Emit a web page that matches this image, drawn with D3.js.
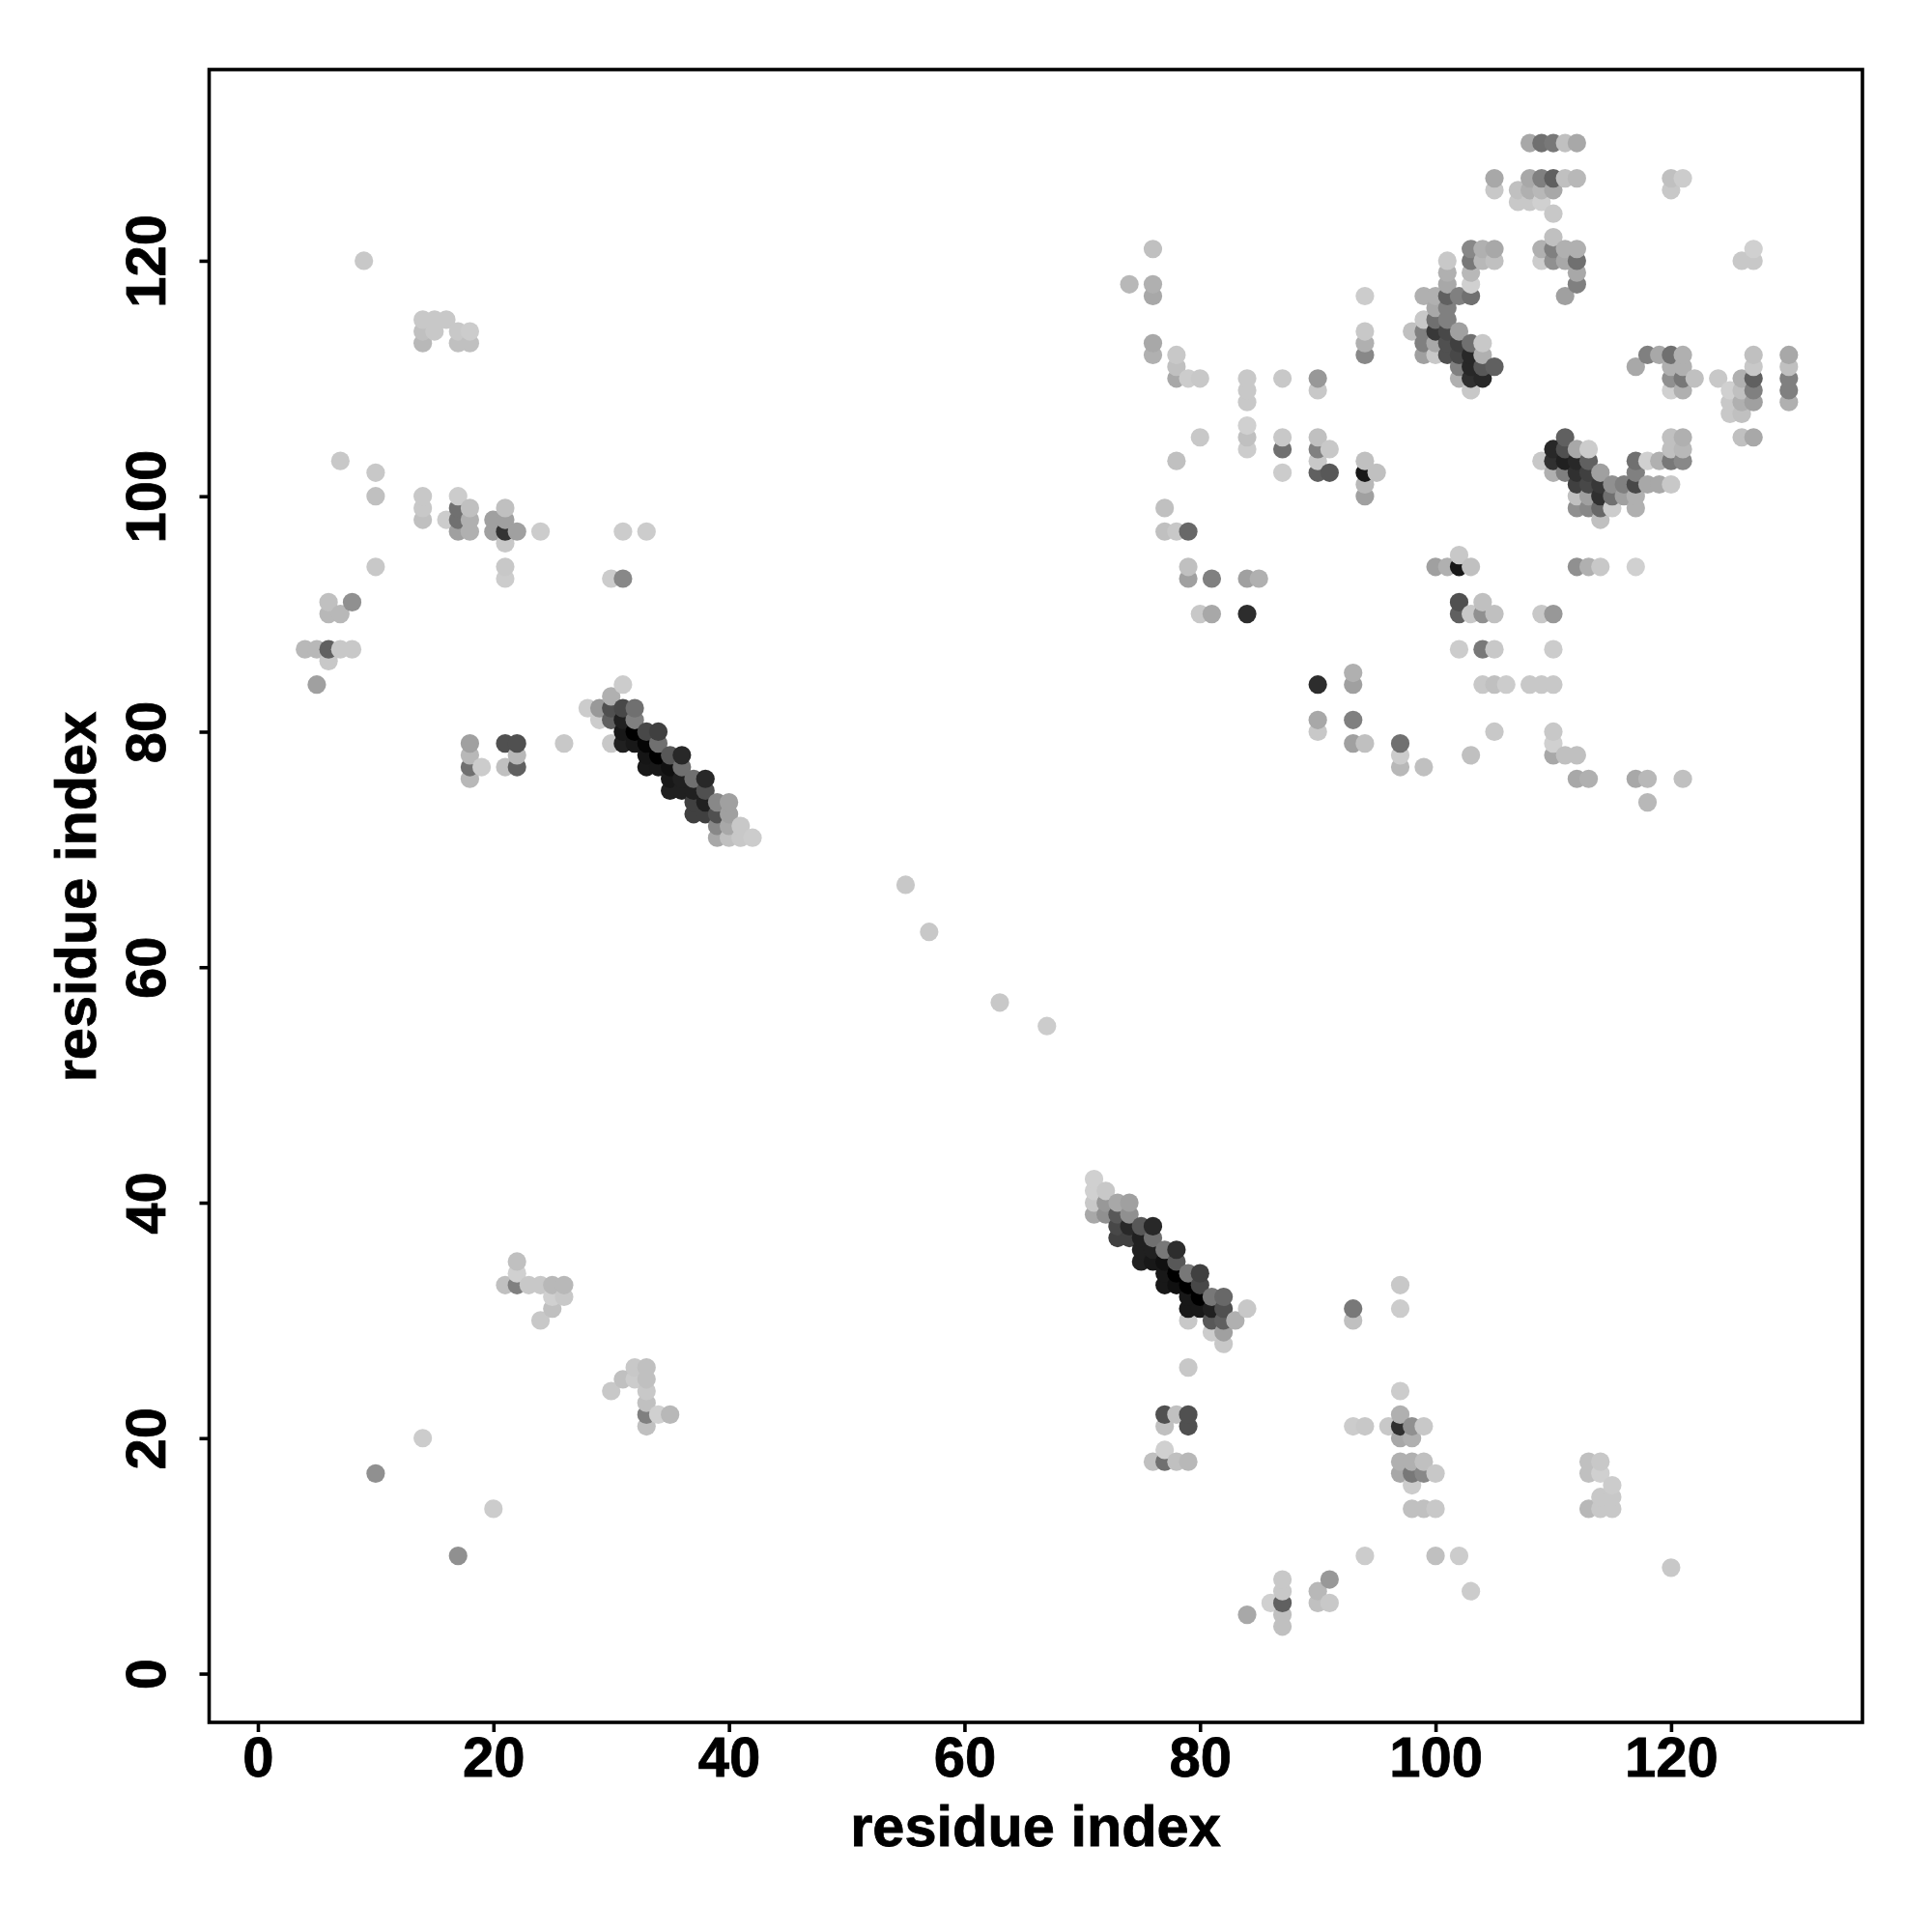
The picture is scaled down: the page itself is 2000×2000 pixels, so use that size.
<!DOCTYPE html>
<html>
<head>
<meta charset="utf-8">
<script src="https://d3js.org/d3.v7.min.js"></script>
<style>
  body { margin: 0; background: #fff; }
  text { font-family: "Liberation Sans", Arial, sans-serif; font-weight: bold; fill: #000; stroke: #000; stroke-width: 0.8px; }
</style>
</head>
<body>
<script>
// contacts as [residue x, residue y, grey level 0-255]
const upperLeft = [
  [9,120,0xc8],[14,115,0xc8],[15,115,0xc8],[16,115,0xc8],[14,114,0xc0],[15,114,0xc8],[14,113,0xb8],
  [17,114,0xc8],[18,114,0xcc],[17,113,0xc0],[18,113,0xc0],[7,103,0xc8],[10,102,0xc8],[10,100,0xc0],[10,94,0xc8],
  [14,100,0xc8],[14,99,0xc8],[14,98,0xc0],[16,98,0xcc],[17,100,0xcc],[17,99,0x70],[17,98,0x70],[17,97,0xa0],
  [18,99,0xc0],[18,98,0xb0],[18,97,0xb0],[20,98,0xa0],[20,97,0xa0],[21,99,0xc0],[21,98,0xa0],[21,97,0x33],
  [21,96,0xc8],[22,97,0xa0],[24,97,0xcc],[21,94,0xc8],[21,93,0xcc],[30,93,0xcc],[31,93,0x88],[31,97,0xcc],[33,97,0xcc],
  [6,91,0xc0],[8,91,0x90],[6,90,0xb8],[7,90,0xb8],[4,87,0xb8],[5,87,0xb8],[6,87,0x60],[7,87,0xc8],[8,87,0xc8],
  [6,86,0xc8],[5,84,0xa0],[18,79,0xa0],[18,78,0xb8],[18,77,0x70],[18,76,0xb8],[19,77,0xcc],[21,79,0x50],
  [22,79,0x50],[22,78,0xb8],[21,77,0xc0],[22,77,0x60],[26,79,0xc8]
];
const helixUpper = [
  [28,82,0xcc],[29,82,0x99],[30,83,0xb0],[31,84,0xcc],[29,81,0xcc],[30,82,0x50],[30,81,0x60],[30,79,0xc8],
  [31,82,0x48],[32,82,0x70],[32,81,0x80],[31,81,0x20],[31,80,0x18],[31,79,0x20],[32,80,0x00],[32,79,0x18],
  [33,80,0x48],[34,80,0x40],[33,79,0x05],[34,79,0x70],[33,78,0x15],[33,77,0x18],[34,78,0x00],[34,77,0x18],
  [35,78,0x58],[36,78,0x28],[35,77,0x10],[36,77,0x70],[35,76,0x18],[35,75,0x20],[36,76,0x20],[36,75,0x20],
  [37,76,0x70],[38,76,0x28],[37,75,0x20],[38,75,0x50],[37,74,0x40],[38,74,0x20],[37,73,0x40],[38,73,0x40],
  [39,74,0x88],[40,74,0xa0],[39,73,0x50],[40,73,0xa0],[39,72,0x88],[40,72,0xa8],[41,72,0xc8],[39,71,0xa8],
  [40,71,0xc0],[41,71,0xc8],[42,71,0xcc]
];
const middle = [[55,67,0xc8],[57,63,0xc8],[63,57,0xc8],[67,55,0xcc]];
const topBlocks = [
  [108,130,0xa8],[109,130,0x70],[110,130,0x78],[111,130,0xc0],[112,130,0xa8],
  [105,127,0xa8],[108,127,0xa8],[109,127,0x80],[110,127,0x60],[111,127,0xc0],[112,127,0xb8],[120,127,0xc0],[121,127,0xcc],
  [105,126,0xc8],[107,126,0xc0],[108,126,0xb0],[109,126,0xb8],[110,126,0xa8],[120,126,0xc8],
  [107,125,0xc8],[108,125,0xc8],[109,125,0xd0],[110,124,0xc8],[110,122,0xc0],
  [109,121,0xb0],[110,121,0x80],[111,121,0xb0],[112,121,0xb0],[109,120,0xcc],[110,120,0x90],[111,120,0xa8],[112,120,0x70],
  [112,119,0xa8],[112,118,0x80],[111,117,0xa0],
  [103,121,0x88],[104,121,0xb0],[105,121,0xa8],[103,120,0x78],[104,120,0xb8],[105,120,0xc0],[103,119,0xb8],[103,118,0xd0],
  [101,120,0xc8],[101,119,0xb0],[101,118,0xa8],[99,117,0xb0],[100,117,0xb0],[101,117,0x60],[102,117,0x80],[103,117,0x70],
  [100,116,0xa8],[101,116,0x80],[99,115,0xc8],[100,115,0x70],[101,115,0x80],[98,114,0xc0],[99,114,0x80],[100,114,0x38],
  [101,114,0x48],[102,114,0xa0],[99,113,0x80],[100,113,0xa8],[101,113,0x50],[102,113,0x40],[103,113,0x70],[104,113,0xc8],
  [99,112,0xa0],[100,112,0xc8],[101,112,0x50],[102,112,0x48],[103,112,0x28],[104,112,0xb0],[102,111,0x80],[103,111,0x28],
  [104,111,0x58],[105,111,0x60],[102,110,0xb0],[103,110,0x30],[104,110,0x28],[103,109,0xc8],
  [127,121,0xd0],[126,120,0xc8],[127,120,0xc8]
];
const upperRight = [
  [76,121,0xc0],[74,118,0xb8],[76,118,0xb0],[76,117,0xa8],[76,113,0xa8],[76,112,0xb0],[78,112,0xc8],[78,111,0xc0],
  [78,110,0xa8],[79,110,0xcc],[80,110,0xc8],[84,110,0xc8],[84,109,0xc8],[84,108,0xc8],[84,106,0xd0],[84,105,0xc0],
  [84,104,0xcc],[87,110,0xc8],[90,110,0x98],[90,109,0xc8],[87,105,0xc8],[87,104,0x70],[87,102,0xcc],[90,105,0xc0],
  [90,104,0x80],[91,104,0xc8],[90,103,0xc8],[90,102,0x60],[91,102,0x58],[94,117,0xcc],[94,114,0xc8],[94,113,0xb0],
  [94,112,0x88],[94,103,0xc0],[94,102,0x18],[95,102,0xc0],[94,101,0xb8],[94,100,0xa0],[80,105,0xc8],[78,103,0xc0],
  [77,99,0xc0],[77,97,0xc0],[78,97,0xc8],[79,97,0x68],[79,94,0xc0],[79,93,0xa0],[81,93,0x80],[84,93,0xa0],[85,93,0xb0],
  [80,90,0xc8],[81,90,0xa8],[84,90,0x2d],[90,84,0x2d],[93,85,0xb0],[93,84,0xa0],[90,81,0xa8],[90,80,0xc8],[93,81,0x80],
  [93,79,0xa0],[94,79,0xc0],[97,79,0x70],[97,78,0xcc],[97,77,0xb8],[99,77,0xc0],[103,78,0xc0],[105,80,0xc8],
  [110,80,0xc8],[110,79,0xd0],[110,78,0xa8],[111,78,0xc0],[112,78,0xc0],[112,76,0xa8],[113,76,0xb0],[117,76,0xa8],
  [118,76,0xb8],[121,76,0xc0],[118,74,0xb8],[104,84,0xc8],[105,84,0xc0],[106,84,0xcc],[108,84,0xc8],[109,84,0xc8],
  [110,84,0xc8],[102,87,0xcc],[104,87,0x78],[105,87,0xc8],[110,87,0xcc],[102,90,0x60],[103,90,0xc8],[104,90,0x90],
  [105,90,0xc0],[109,90,0xc8],[110,90,0x98],[102,91,0x50],[104,91,0xc0],[100,94,0xa0],[101,94,0xb0],[102,94,0x18],
  [103,94,0xc0],[102,95,0xc8],[112,94,0x90],[113,94,0xb0],[114,94,0xc8],[117,94,0xd0]
];
const rightBlocks = [
  [111,105,0x60],[120,105,0xc0],[121,105,0xb0],[126,105,0xc0],[127,105,0xa8],
  [110,104,0x28],[111,104,0x50],[112,104,0xa8],[113,104,0xcc],[120,104,0xc0],[121,104,0xb8],
  [109,103,0xc8],[110,103,0x30],[111,103,0x20],[112,103,0x28],[113,103,0x60],[117,103,0x70],[118,103,0xd0],[119,103,0xb0],[120,103,0x78],[121,103,0x88],
  [110,102,0xb0],[111,102,0x80],[112,102,0x30],[113,102,0x40],[114,102,0xa0],[117,102,0x80],
  [112,101,0x40],[113,101,0x48],[114,101,0x38],[115,101,0x90],[116,101,0x80],[117,101,0x48],[118,101,0xa8],[119,101,0xa8],[120,101,0xc8],
  [112,100,0xc0],[113,100,0xa0],[114,100,0x30],[115,100,0x70],[116,100,0xa0],[117,100,0xb0],
  [112,99,0x90],[113,99,0x88],[114,99,0x68],[115,99,0xcc],[117,99,0xb0],[114,98,0xc0],
  [118,112,0x80],[119,112,0xa8],[120,112,0x70],[121,112,0xb0],[127,112,0xc0],[130,112,0xa8],
  [117,111,0xa8],[120,111,0xb0],[121,111,0xb0],[127,111,0xc8],[130,111,0xc0],
  [120,110,0x90],[121,110,0x78],[122,110,0xc0],[124,110,0xc8],[126,110,0xb0],[127,110,0x60],[130,110,0x80],
  [120,109,0xd0],[121,109,0xb0],[125,109,0xd0],[126,109,0xc0],[127,109,0x80],[130,109,0x80],
  [125,108,0xc8],[126,108,0xb0],[127,108,0xa0],[130,108,0xb0],[125,107,0xc8],[126,107,0xc0]
];
const lowerLeft = [
  [22,35,0xc0],[22,34,0xd0],[21,33,0xc0],[22,33,0x80],[23,33,0xc8],[24,33,0xc8],[25,33,0xb8],[26,33,0xb8],
  [25,32,0xd0],[26,32,0xc8],[25,31,0xc0],[24,30,0xc8],[32,26,0xc8],[33,26,0xc0],[31,25,0xc0],[32,25,0xcc],
  [33,25,0xc0],[30,24,0xc8],[33,24,0xc8],[33,23,0xc0],[33,22,0x80],[34,22,0xd0],[35,22,0xb8],[33,21,0xc0],
  [14,20,0xcc],[10,17,0x90],[20,14,0xcc],[17,10,0x90]
];
const helixLower = [
  [71,42,0xd0],[71,41,0xd0],[72,41,0xc8],[71,40,0xc8],[72,40,0x98],[73,40,0xa8],[74,40,0xa0],
  [71,39,0xa8],[72,39,0x90],[73,39,0x58],[74,39,0x90],[73,38,0x48],[74,38,0x28],[75,38,0x58],[76,38,0x28],
  [73,37,0x40],[74,37,0x40],[75,37,0x20],[76,37,0x70],[75,36,0x20],[76,36,0x20],[77,36,0x78],[78,36,0x2d],
  [75,35,0x20],[76,35,0x18],[77,35,0x10],[78,35,0x58],[77,34,0x18],[78,34,0x00],[79,34,0x78],[80,34,0x40],
  [77,33,0x18],[78,33,0x10],[79,33,0x00],[80,33,0x48],[79,32,0x18],[80,32,0x00],[81,32,0x78],[82,32,0x68],
  [79,31,0x18],[80,31,0x18],[81,31,0x20],[82,31,0x50],[84,31,0xc8],[79,30,0xc8],[81,30,0x58],[82,30,0x60],
  [83,30,0xb0],[81,29,0xcc],[82,29,0xa0],[82,28,0xc8]
];
const lowerRight = [
  [93,31,0x78],[93,30,0xc0],[97,33,0xc8],[97,31,0xcc],[79,26,0xc8],[97,24,0xcc],
  [77,22,0x50],[78,22,0xc0],[79,22,0x50],[77,21,0xc0],[79,21,0x50],[77,19,0xd0],[76,18,0xc0],[77,18,0x70],[78,18,0xc0],[79,18,0xb8],
  [93,21,0xcc],[94,21,0xc8],[96,21,0xc8],[97,22,0xb0],[97,21,0x30],[98,21,0x90],[99,21,0xc8],[97,20,0xa8],[98,20,0xb0],
  [97,18,0xb0],[98,18,0xb0],[99,18,0xc0],[97,17,0xa8],[98,17,0x78],[99,17,0x88],[100,17,0xc8],[98,16,0xcc],
  [98,14,0xc0],[99,14,0xc0],[100,14,0xc8],[113,18,0xc0],[114,18,0xc8],[113,17,0xc0],[114,17,0xd0],[115,16,0xcc],
  [114,15,0xc8],[115,15,0xc8],[113,14,0xb8],[114,14,0xc8],[115,14,0xc8],[94,10,0xcc],[100,10,0xc0],[102,10,0xcc],
  [103,7,0xcc],[120,9,0xc8],[84,5,0xa8],[86,6,0xd0],[87,8,0xc8],[87,7,0xc8],[87,6,0x60],[87,5,0xc0],[87,4,0xc0],
  [90,7,0xb8],[90,6,0xc0],[91,8,0x98],[91,6,0xc8]
];
const tickValues = [0, 20, 40, 60, 80, 100, 120];
const axisTitle = "residue index";

const contacts = [].concat(upperLeft, helixUpper, middle, topBlocks, upperRight, rightBlocks, lowerLeft, helixLower, lowerRight);
// drawn by x then y, later points sit on top
contacts.sort((a, b) => d3.ascending(a[0], b[0]) || d3.ascending(a[1], b[1]));

const svg = d3.select("body").append("svg").attr("width", 2000).attr("height", 2000);

const plotLeft = 216.5, plotRight = 1928, plotTop = 72, plotBottom = 1783;
const x = d3.scaleLinear().domain([-4.14, 136.25]).range([plotLeft, plotRight]);
const y = d3.scaleLinear().domain([-4.14, 136.24]).range([plotBottom, plotTop]);

svg.selectAll("circle.contact")
  .data(contacts)
  .join("circle")
  .attr("class", "contact")
  .attr("cx", d => x(d[0]))
  .attr("cy", d => y(d[1]))
  .attr("r", 9.6)
  .attr("fill", d => d3.rgb(d[2], d[2], d[2]));

svg.append("rect")
  .attr("x", plotLeft).attr("y", plotTop)
  .attr("width", plotRight - plotLeft).attr("height", plotBottom - plotTop)
  .attr("fill", "none").attr("stroke", "#000").attr("stroke-width", 3.6);

const xAxis = svg.append("g")
  .attr("transform", `translate(0,${plotBottom})`)
  .call(d3.axisBottom(x).tickValues(tickValues).tickSize(10).tickSizeOuter(0));
xAxis.select(".domain").remove();
xAxis.selectAll("line").attr("stroke", "#000").attr("stroke-width", 3.6);
xAxis.selectAll("text")
  .attr("y", 56).attr("dy", 0)
  .style("font-size", "58px");

const yAxis = svg.append("g")
  .attr("transform", `translate(${plotLeft},0)`)
  .call(d3.axisLeft(y).tickValues(tickValues).tickSize(10).tickSizeOuter(0));
yAxis.select(".domain").remove();
yAxis.selectAll("line").attr("stroke", "#000").attr("stroke-width", 3.6);
yAxis.selectAll("text")
  .attr("x", 0).attr("dy", 0)
  .attr("text-anchor", "middle")
  .attr("transform", `translate(-46,0) rotate(-90)`)
  .style("font-size", "58px");

svg.append("text")
  .attr("x", 1072).attr("y", 1911)
  .attr("text-anchor", "middle")
  .style("font-size", "59.5px")
  .text(axisTitle);

svg.append("text")
  .attr("transform", "translate(99,928.5) rotate(-90)")
  .attr("text-anchor", "middle")
  .style("font-size", "59.5px")
  .text(axisTitle);
</script>
</body>
</html>
